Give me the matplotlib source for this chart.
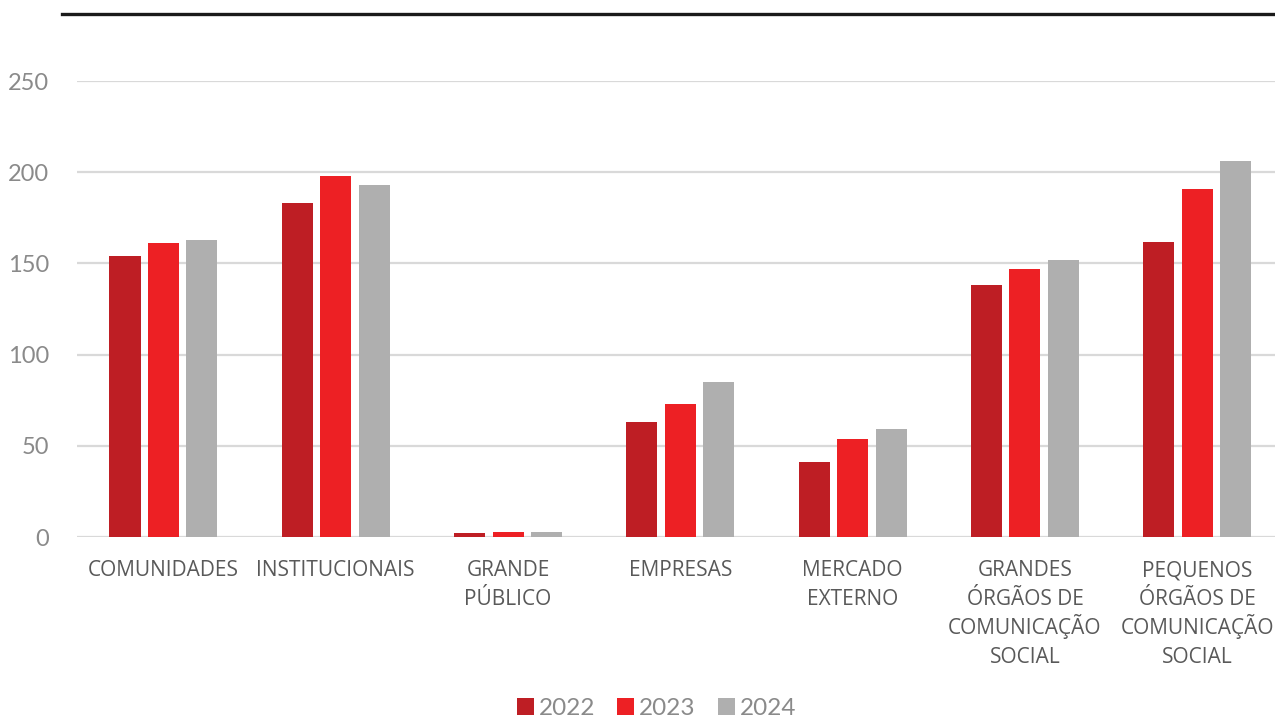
import numpy as np
import matplotlib.pyplot as plt
from matplotlib.lines import Line2D

# categorias e valores por ano
categorias = ['COMUNIDADES', 'INSTITUCIONAIS', 'GRANDE\nPÚBLICO', 'EMPRESAS',
              'MERCADO\nEXTERNO', 'GRANDES\nÓRGÃOS DE\nCOMUNICAÇÃO\nSOCIAL',
              'PEQUENOS\nÓRGÃOS DE\nCOMUNICAÇÃO\nSOCIAL']
anos = ['2022', '2023', '2024']
v2022 = [154, 183, 2, 63, 41, 138, 162]
v2023 = [161, 198, 3, 73, 54, 147, 191]
v2024 = [163, 193, 3, 85, 59, 152, 206]
cores = ['#BE1E24', '#ED2024', '#AFAFAF']

fig = plt.figure(figsize=(12.75, 7.19), dpi=100)
ax = fig.add_axes([0.0606, 0.2531, 0.946, 0.6342])

x = np.arange(len(categorias))
larg = 0.18
passo = 0.223
for i, (vals, cor, ano) in enumerate(zip([v2022, v2023, v2024], cores, anos)):
    ax.bar(x + (i - 1) * passo, vals, width=larg, color=cor, label=ano, zorder=3)

ax.set_xlim(-0.5, len(categorias) - 0.5)
ax.set_ylim(0, 250)
ax.set_yticks(range(0, 251, 50))
ax.yaxis.grid(True, color='#D9D9D9', linewidth=1.6, zorder=0)
for s in ax.spines.values():
    s.set_visible(False)
ax.tick_params(axis='both', length=0)
ax.tick_params(axis='y', pad=20, labelsize=17, labelcolor='#8A8A8A')
for t in ax.get_yticklabels():
    t.set_fontfamily('Lato')

# rótulos das categorias: uma linha de texto por vez, espaçamento fixo
ax.set_xticks(x)
ax.set_xticklabels([])
for xi, cat in zip(x, categorias):
    for j, linha in enumerate(cat.split('\n')):
        ax.annotate(linha, xy=(xi, 0), xycoords=('data', 'axes fraction'),
                    xytext=(0, -28.1 - 20.9 * j), textcoords='offset points',
                    ha='center', va='baseline', fontsize=15, color='#595959',
                    family='Open Sans')

# linha preta no topo
fig.add_artist(Line2D([62 / 1275, 1.0], [1 - 14 / 719] * 2, color='#1A1A1A',
                      linewidth=2.4, transform=fig.transFigure))

leg = fig.legend(loc='lower center', bbox_to_anchor=(0.515, -0.03), ncol=3, frameon=False,
                 handlelength=0.7, handleheight=0.7, handletextpad=0.2,
                 columnspacing=0.9, prop={'family': 'Lato', 'size': 17.5})
for t in leg.get_texts():
    t.set_color('#8A8A8A')

fig.savefig('out.png', dpi=100)
